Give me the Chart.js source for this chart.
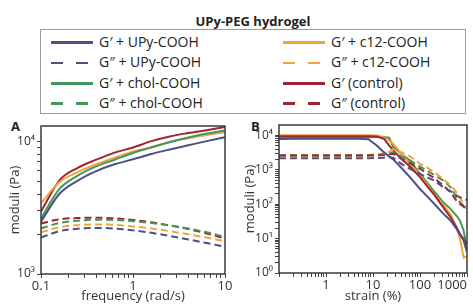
<!DOCTYPE html>
<html><head><meta charset="utf-8">
<script src="https://cdn.jsdelivr.net/npm/chart.js@4.4.0/dist/chart.umd.min.js"></script>
<style>
html,body{margin:0;padding:0;background:#fff;}
body{width:473px;height:305px;position:relative;overflow:hidden;font-family:"Open Sans",sans-serif;color:#222;}
#title{position:absolute;left:0;width:506px;top:13px;text-align:center;font-weight:bold;font-size:13px;line-height:16px;}
#legend{position:absolute;left:40px;top:29px;width:426px;height:85px;box-sizing:border-box;border:1px solid #9a9a9a;}
.sw{position:absolute;height:2.5px;}
.lt{position:absolute;font-size:14px;line-height:16px;white-space:nowrap;}
.pl{position:absolute;font-weight:bold;font-size:13px;}
canvas{position:absolute;}
</style></head>
<body>
<div id="title">UPy-PEG hydrogel</div>
<div id="legend"></div>
<div class="pl" style="left:11px;top:117px;">A</div>
<div class="pl" style="left:251px;top:117px;">B</div>
<div style="position:absolute;left:0;top:115px;width:235px;height:190px;"><canvas id="cA" width="235" height="190"></canvas></div>
<div style="position:absolute;left:235px;top:115px;width:238px;height:190px;"><canvas id="cB" width="238" height="190"></canvas></div>
<script>
// ---------- data ----------
const seriesNames = ["G\u2032 + UPy-COOH","G\u2033 + UPy-COOH","G\u2032 + chol-COOH","G\u2033 + chol-COOH",
                     "G\u2032 + c12-COOH","G\u2033 + c12-COOH","G\u2032  (control)","G\u2033  (control)"];
const colors = {upy:"#4d5080", chol:"#45965a", c12:"#f0a53a", ctrl:"#9c2536"};

// Panel A: frequency sweep (rad/s)
const freq = [0.1,0.158,0.251,0.398,0.631,1,1.585,2.512,3.981,6.31,10];
const freqGp_upy  = [2480,4000,5050,5950,6700,7300,8000,8650,9300,10000,10720];
const freqGpp_upy = [1880,2100,2190,2220,2200,2130,2040,1930,1820,1710,1600];
const freqGp_chol  = [2620,4350,5500,6450,7250,8150,9000,9850,10650,11400,12050];
const freqGpp_chol = [2200,2420,2520,2560,2550,2500,2420,2320,2200,2060,1900];
const freqGp_c12  = [3410,4900,5850,6700,7500,8350,8950,9800,10500,11100,11700];
const freqGpp_c12 = [2060,2250,2330,2360,2340,2280,2200,2100,1990,1880,1760];
const freqGp_ctrl  = [2950,5050,6300,7250,8200,8950,10000,10850,11500,12100,12770];
const freqGpp_ctrl = [2400,2580,2640,2650,2620,2550,2450,2320,2180,2020,1850];

// Panel B: strain sweep (%)
const strain = [0.1,0.2,0.5,1,2,5,8,12,17,22,27,40,61,100,139,200,313,450,600,710,850,1000];
const strGp_upy  = [7900,7950,8000,8000,8000,8000,7700,5100,3250,2450,2000,1140,610,277,174,103,53,33,19,13.5,8.6,4];
const strGpp_upy = [2150,2150,2150,2150,2150,2150,2170,2200,2250,2300,2240,1490,1070,760,610,486,310,237,178,158,141,133];
const strGp_chol  = [8700,8700,8750,8800,8800,8800,8800,8900,8900,8500,4570,2930,1860,760,434,237,113,72,46,33,17,4.9];
const strGpp_chol = [2650,2650,2650,2650,2650,2650,2680,2750,2900,3100,3240,2450,1860,1240,950,710,486,310,158,113,90,81];
const strGp_c12  = [10000,10000,10000,10000,10000,10000,10000,10000,8900,7100,5700,2930,1490,680,380,200,95,50,21,9.6,2.8,3.1];
const strGpp_c12 = [2500,2500,2500,2500,2500,2500,2520,2600,2750,3300,4000,3240,2450,1490,1180,850,545,347,222,158,101,72];
const strGp_ctrl  = [9500,9500,9500,9500,9500,9500,9500,9300,8000,5100,3650,2090,1240,610,347,190,81,41,21,13.5,9.6,6.9];
const strGpp_ctrl = [2600,2600,2600,2600,2600,2600,2620,2650,2700,2800,2930,2090,1560,1070,790,580,347,222,126,101,85,72];

const freqTickLabels = [0.1,1,10];
const strainTickLabels = [1,10,100,1000];

// ---------- legend ----------
const legendItems = [
  {name:seriesNames[0], c:colors.upy, dash:false, col:0, row:0},
  {name:seriesNames[1], c:colors.upy, dash:true,  col:0, row:1},
  {name:seriesNames[2], c:colors.chol,dash:false, col:0, row:2},
  {name:seriesNames[3], c:colors.chol,dash:true,  col:0, row:3},
  {name:seriesNames[4], c:colors.c12, dash:false, col:1, row:0},
  {name:seriesNames[5], c:colors.c12, dash:true,  col:1, row:1},
  {name:seriesNames[6], c:colors.ctrl,dash:false, col:1, row:2},
  {name:seriesNames[7], c:colors.ctrl,dash:true,  col:1, row:3}
];
const leg = document.getElementById('legend');
const rowY = [12.5, 33, 53.5, 73.5];
legendItems.forEach(it=>{
  const x0 = it.col===0 ? 10 : 242;
  const y = rowY[it.row];
  if(it.dash){
    [[0,12],[25,12]].forEach(([o,w])=>{
      const d=document.createElement('div'); d.className='sw';
      d.style.cssText=`left:${x0+o}px;top:${y-1.25}px;width:${w}px;background:${it.c};`;
      leg.appendChild(d);
    });
  } else {
    const d=document.createElement('div'); d.className='sw';
    d.style.cssText=`left:${x0}px;top:${y-1.25}px;width:42px;background:${it.c};`;
    leg.appendChild(d);
  }
  const t=document.createElement('div'); t.className='lt';
  t.style.cssText=`left:${x0+48}px;top:${y-9}px;`;
  t.textContent=it.name; leg.appendChild(t);
});

// ---------- charts ----------
const sup = {'0':'\u2070','1':'\u00b9','2':'\u00b2','3':'\u00b3','4':'\u2074'};
function logTicks(min,max){
  const out=[];
  for(let e=Math.floor(Math.log10(min)); e<=Math.ceil(Math.log10(max)); e++){
    for(let k=1;k<=9;k++){
      const v=parseFloat((k*Math.pow(10,e)).toPrecision(6));
      if(v>=min*0.999 && v<=max*1.001) out.push(v);
    }
  }
  return out;
}
const isPow10 = v => Math.abs(Math.log10(v)-Math.round(Math.log10(v)))<1e-6;
const boxPlugin = {id:'box', afterDraw(chart){
  const {ctx, chartArea:a}=chart; ctx.save(); ctx.strokeStyle='#3a3a3a'; ctx.lineWidth=1.5;
  ctx.strokeRect(a.left,a.top,a.right-a.left,a.bottom-a.top); ctx.restore();}};

const FONT = {family:'"Open Sans", sans-serif', size:12};
function ds(xs, ys, color, dashed){
  return {data: xs.map((x,i)=>({x, y: ys[i]})), borderColor: color, backgroundColor: color,
    borderWidth: 2, pointRadius: 0, borderDash: dashed ? [7,4] : [], tension: 0.3, cubicInterpolationMode:'monotone', fill:false};
}
function makeChart(id, cfg){
  return new Chart(document.getElementById(id), {
    type:'line',
    data:{datasets: cfg.datasets},
    plugins:[boxPlugin],
    options:{
      responsive:false, animation:false, devicePixelRatio:1,
      layout:{padding:cfg.pad},
      plugins:{legend:{display:false}, tooltip:{enabled:false}},
      scales:{
        x:{type:'logarithmic', min:cfg.xmin, max:cfg.xmax,
           afterBuildTicks:s=>{ s.ticks = logTicks(cfg.xmin,cfg.xmax).map(v=>({value:v})); },
           afterFit:s=>{ s.height=cfg.xh; s.paddingLeft=0; s.paddingRight=0; },
           ticks:{autoSkip:false, maxRotation:0, minRotation:0, color:'#333', font:{...FONT,size:13}, padding:0, align:cfg.xAlign,
                  callback:(v)=> cfg.xLabels.some(l=>Math.abs(l-v)<1e-9) ? String(v) : ''},
           grid:{drawOnChartArea:false, drawTicks:true, tickLength:4, color:'#444'},
           border:{display:false},
           title:{display:true, text:cfg.xTitle, color:'#333', font:{...FONT,size:13}, padding:{top:0,bottom:1}}},
        y:{type:'logarithmic', min:cfg.ymin, max:cfg.ymax,
           afterBuildTicks:s=>{ s.ticks = logTicks(cfg.ymin,cfg.ymax).filter(v=>v<=cfg.ymax/1.2||isPow10(v)).map(v=>({value:v})); },
           afterFit:s=>{ s.width=cfg.yw; s.paddingTop=0; s.paddingBottom=0; },
           ticks:{autoSkip:false, color:'#333', font:{...FONT,size:12}, padding:2,
                  callback:(v)=> isPow10(v) ? '10'+sup[String(Math.round(Math.log10(v)))] : ''},
           grid:{drawOnChartArea:false, drawTicks:true, tickLength:4, color:'#444'},
           border:{display:false},
           title:{display:true, text:'moduli (Pa)', color:'#333', font:{...FONT,size:13}, padding:{top:7,bottom:0}}}
      }
    }
  });
}

makeChart('cA', {
  xmin:0.1, xmax:10, ymin:1000, ymax:13000, xh:31, yw:41, pad:{left:0,top:11,right:10,bottom:0},
  xLabels:freqTickLabels, xAlign:'center', xTitle:'frequency (rad/s)',
  datasets:[
    ds(freq,freqGpp_upy,colors.upy,true), ds(freq,freqGpp_c12,colors.c12,true),
    ds(freq,freqGpp_chol,colors.chol,true), ds(freq,freqGpp_ctrl,colors.ctrl,true),
    ds(freq,freqGp_upy,colors.upy,false), ds(freq,freqGp_chol,colors.chol,false),
    ds(freq,freqGp_c12,colors.c12,false), ds(freq,freqGp_ctrl,colors.ctrl,false)
  ]
});
makeChart('cB', {
  xmin:0.1, xmax:1000, ymin:1, ymax:20000, xh:32, yw:44, pad:{left:0,top:10,right:6,bottom:0},
  xLabels:strainTickLabels, xAlign:'inner', xTitle:'strain (%)',
  datasets:[
    ds(strain,strGpp_upy,colors.upy,true), ds(strain,strGpp_ctrl,colors.ctrl,true),
    ds(strain,strGpp_c12,colors.c12,true), ds(strain,strGpp_chol,colors.chol,true),
    ds(strain,strGp_upy,colors.upy,false), ds(strain,strGp_ctrl,colors.ctrl,false),
    ds(strain,strGp_c12,colors.c12,false), ds(strain,strGp_chol,colors.chol,false)
  ].map(d=>({...d, tension:0, cubicInterpolationMode:'default'}))
});
</script>
</body></html>
